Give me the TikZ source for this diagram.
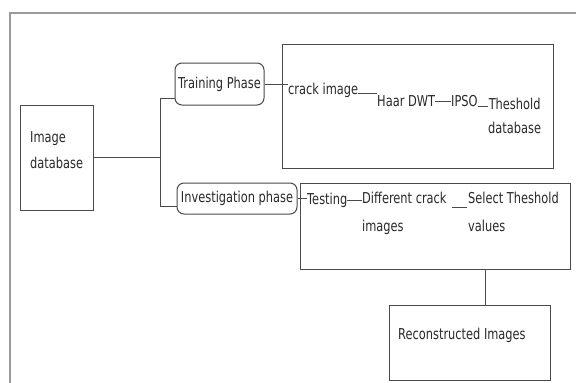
\documentclass[tikz,border=0pt]{standalone}
\usepackage{fontspec}
\setmainfont{DejaVu Sans}[FakeStretch=0.76]
\definecolor{ln}{HTML}{4A4A4A}
\definecolor{txt}{HTML}{2A2A2A}
\definecolor{framec}{HTML}{9A9A9A}
\begin{document}
\begin{tikzpicture}[x=1pt,y=-1pt,
  lbl/.style={inner sep=0pt, font=\fontsize{15}{18}\selectfont, text=txt},
  box/.style={draw=ln, line width=1pt, inner sep=0pt},
  rbox/.style={box, rounded corners=7pt, font=\fontsize{15}{18}\selectfont, text=txt},
  conn/.style={draw=ln, line width=1pt},
  twoline/.style={lbl, align=left, anchor=north west, font=\fontsize{15}{28}\selectfont},
  framel/.style={draw=framec, line width=1.4pt}
]
\useasboundingbox[fill=white] (0,0) rectangle (576,383);
\draw[framel] (10,384) -- (10,13) -- (577,13);

% boxes
\node[box, minimum width=73pt, minimum height=105pt] (imgdb) at (56.5,157.5) {};
\node[lbl, align=left, anchor=west, font=\fontsize{15}{26}\selectfont] (imgdbt) at (30,150) {Image\\database};
\node[rbox, minimum width=89pt, minimum height=42pt] (train) at (219.5,84) {Training Phase};
\node[rbox, minimum width=120pt, minimum height=31pt] (inv) at (237,198.5) {Investigation phase};
\node[box, minimum width=271pt, minimum height=124pt] (up) at (417.5,106) {};
\node[box, minimum width=270pt, minimum height=86pt] (low) at (435,226) {};
\node[box, minimum width=161pt, minimum height=75pt] (rec) at (469.5,342.5) {};
\node[lbl, anchor=west] (rect) at (398,335) {Reconstructed Images};

% upper chain
\node[lbl, anchor=west] (crack) at (288,90) {crack image};
\node[lbl, anchor=west] (haar) at (377,101) {Haar DWT};
\node[lbl, anchor=west] (ipso) at (451,101) {IPSO};
\node[lbl, align=center, anchor=north west, font=\fontsize{15}{24}\selectfont] (thesh) at (488,98) {Theshold\\database};

% lower chain
\node[lbl, anchor=west] (test) at (307,200) {Testing};
\node[twoline] (diff) at (362,192) {Different crack\\images};
\node[twoline] (sel) at (468,192) {Select Theshold\\values};

% connectors
\coordinate (jt) at (160,98);
\coordinate (ji) at (160,206);
\draw[conn] (imgdb.east) -- (imgdb.east -| jt);
\draw[conn] (jt -| train.west) -- (jt) -- (ji) -- (ji -| inv.west);
\draw[conn] (train.east) -- (train.east -| crack.west);
\draw[conn] ([yshift=-3pt]crack.east) -- ([yshift=-3pt]crack.east -| haar.west);
\draw[conn] (haar.east) -- (ipso.west);
\draw[conn] ([yshift=-5pt]ipso.east) -- ([yshift=-5pt]ipso.east -| thesh.west);
\draw[conn] (inv.east) -- (inv.east -| test.west);
\draw[conn] (test.east) -- (test.east -| diff.west);
\draw[conn, shorten <=5pt, shorten >=1pt] ([yshift=-15pt]diff.north east) -- ([yshift=-15pt]sel.north west);
\coordinate (v) at (485,269);
\draw[conn] (v) -- (v |- rec.north);
\end{tikzpicture}
\end{document}
